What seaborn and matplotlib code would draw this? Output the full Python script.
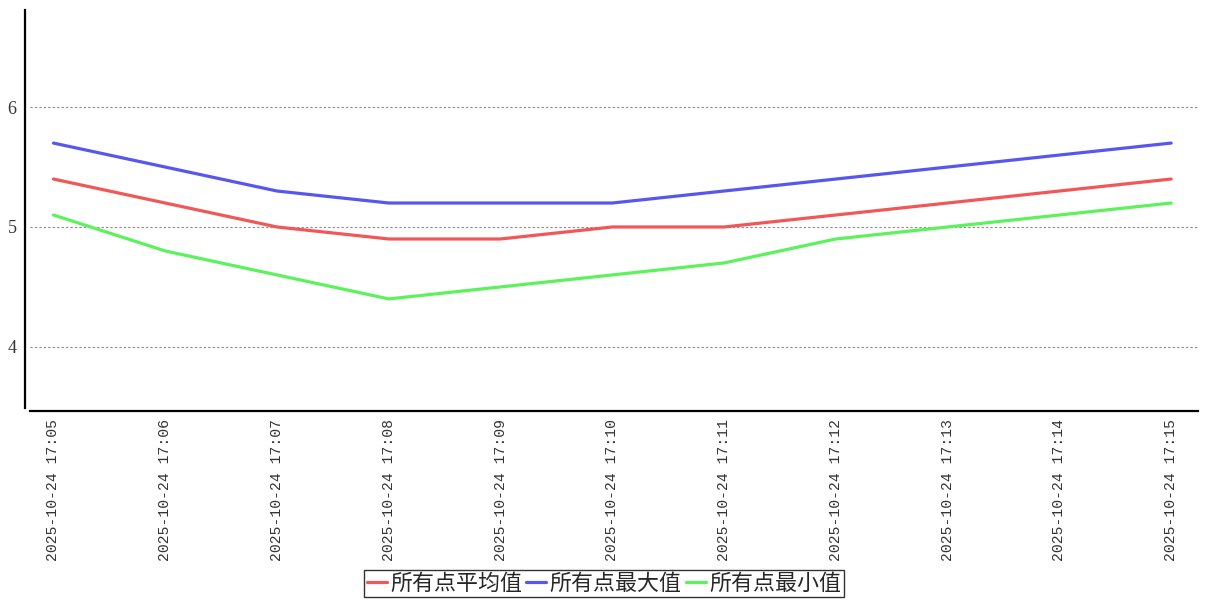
import numpy as np
import pandas as pd
import matplotlib
matplotlib.use("Agg")
import matplotlib.pyplot as plt
import seaborn as sns

# data
times = ["2025-10-24 17:05", "2025-10-24 17:06", "2025-10-24 17:07", "2025-10-24 17:08",
         "2025-10-24 17:09", "2025-10-24 17:10", "2025-10-24 17:11", "2025-10-24 17:12",
         "2025-10-24 17:13", "2025-10-24 17:14", "2025-10-24 17:15"]
avg_vals = [5.4, 5.2, 5.0, 4.9, 4.9, 5.0, 5.0, 5.1, 5.2, 5.3, 5.4]
max_vals = [5.7, 5.5, 5.3, 5.2, 5.2, 5.2, 5.3, 5.4, 5.5, 5.6, 5.7]
min_vals = [5.1, 4.8, 4.6, 4.4, 4.5, 4.6, 4.7, 4.9, 5.0, 5.1, 5.2]
series_names = ["所有点平均值", "所有点最大值", "所有点最小值"]
colors = ["#f25757", "#5757ee", "#5cf25c"]

sns.set_style("white")
plt.rcParams['font.family'] = ['Noto Sans CJK SC', 'DejaVu Sans']

rows = []
for name, vals in zip(series_names, [avg_vals, max_vals, min_vals]):
    for i, v in enumerate(vals):
        rows.append({"idx": i, "value": v, "series": name})
df = pd.DataFrame(rows)

fig = plt.figure(figsize=(12.07, 6), dpi=100)
ax = fig.add_axes([30/1207, 1 - 408/600, 1168/1207, 398/600])

sns.lineplot(data=df, x="idx", y="value", hue="series", palette=colors,
             linewidth=2.3, ax=ax, legend=True)

# offset spines first: moving a spine resets the ticks
sns.despine(ax=ax, offset={"left": 3.6, "bottom": 2.2})
for side in ["left", "bottom"]:
    ax.spines[side].set_linewidth(1.6)
    ax.spines[side].set_color("black")

ax.set_xlim(-0.21, 10.24)
ax.set_ylim(3.49, 6.81)
ax.set_yticks([4, 5, 6])
ax.set_xticks(range(len(times)))
ax.set_xticklabels(times, rotation=90, family=['Liberation Mono'], fontsize=10.6, color="#333333")
ax.set_yticklabels(["4", "5", "6"], family=['Liberation Serif'], fontsize=13, color="#333333")
ax.set_xlabel("")
ax.set_ylabel("")
ax.yaxis.grid(True, linestyle=(0, (2, 2)), color="#888888", linewidth=0.8)
ax.tick_params(axis="both", length=3, width=0.8, color="#555555", pad=3)

handles, labels = ax.get_legend_handles_labels()
leg = ax.legend(handles, labels, loc="lower center", bbox_to_anchor=(0.4914, -0.475),
                ncol=3, frameon=True, fancybox=False, fontsize=15.8,
                handlelength=0.9, handletextpad=0.15, columnspacing=0.2,
                borderpad=0.12, borderaxespad=0)
leg.get_frame().set_edgecolor("black")
leg.get_frame().set_linewidth(1.0)

fig.savefig("out.png", dpi=100)
